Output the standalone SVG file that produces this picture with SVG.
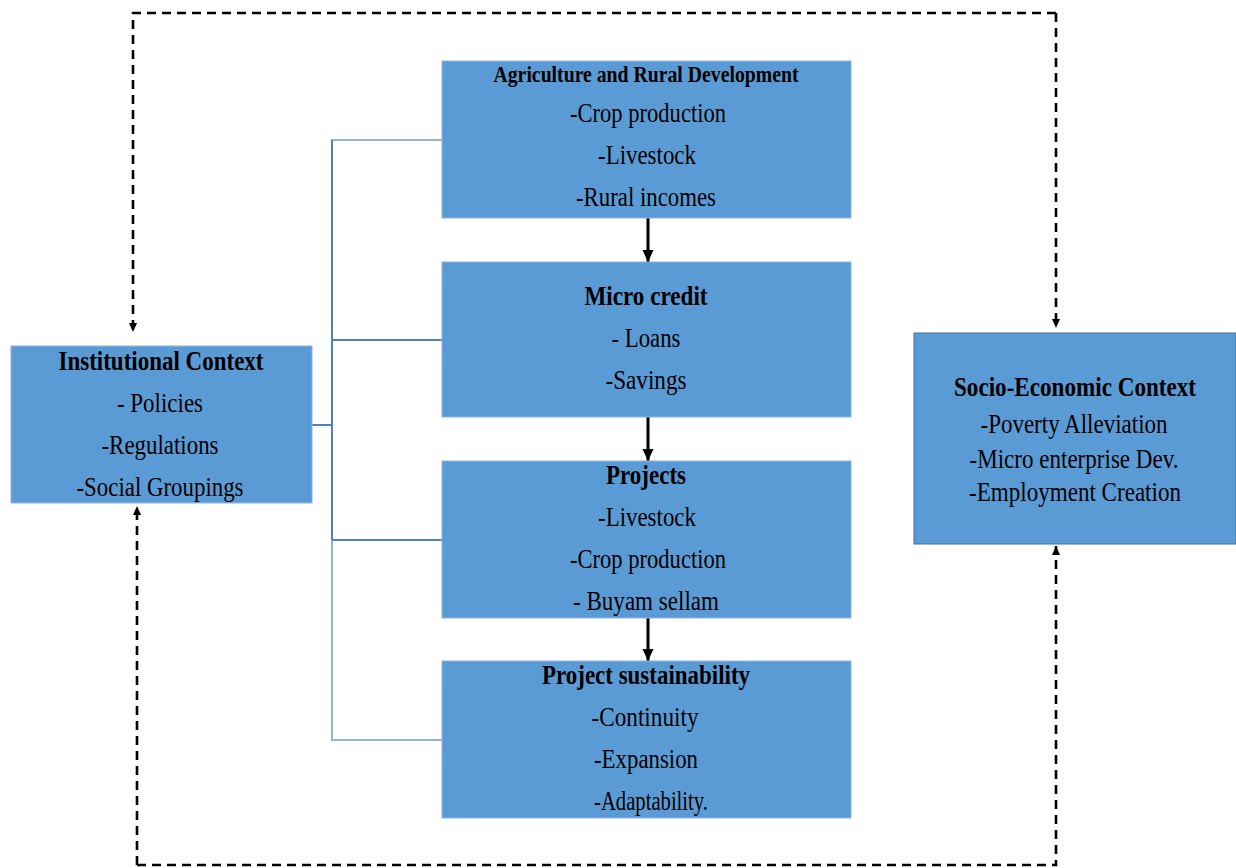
<svg xmlns="http://www.w3.org/2000/svg" width="1236" height="868" viewBox="0 0 1236 868">
<style>
.box{fill:#5b9bd5;stroke:#8db4e2;stroke-width:1}
.t{font-family:"Liberation Serif","Times New Roman",serif;font-size:27px;fill:#000;text-anchor:middle}
.b{font-weight:bold;font-size:28px}
.dash{fill:none;stroke:#000;stroke-width:2.6;stroke-dasharray:9 6}
.solid{fill:none;stroke:#000;stroke-width:3}
.br{fill:none;stroke:#4f81bd;stroke-width:2}
.brl{fill:none;stroke:#95b3d7;stroke-width:2}
</style>
<defs>
<marker id="ah" markerWidth="10" markerHeight="10" refX="9" refY="5" orient="auto" markerUnits="userSpaceOnUse"><path d="M0,1 L9,5 L0,9 Z" fill="#000"/></marker>
<marker id="sh" markerWidth="14" markerHeight="14" refX="12" refY="7" orient="auto" markerUnits="userSpaceOnUse"><path d="M0,1.5 L12,7 L0,12.5 Z" fill="#000"/></marker>
</defs>
<g id="connectors">
<path class="dash" d="M1056,13 H133 V332" marker-end="url(#ah)"/>
<path class="dash" d="M1056,13 V328" marker-end="url(#ah)"/>
<path class="dash" d="M137,865 V506" marker-end="url(#ah)"/>
<path class="dash" d="M137,865 H1056 V546" marker-end="url(#ah)"/>
<path class="solid" d="M648,218 V262" marker-end="url(#sh)"/>
<path class="solid" d="M648,417 V461" marker-end="url(#sh)"/>
<path class="solid" d="M648,618 V661" marker-end="url(#sh)"/>
<path class="brl" d="M442,140 H332 V740 H442"/>
<path class="br" d="M332,140 V540 M332,340 H442 M332,540 H442 M312,425 H332"/>
</g>
<g id="institutional">
<rect class="box" x="11" y="346" width="301" height="157"/>
<text class="t b" x="161" y="370" textLength="205" lengthAdjust="spacingAndGlyphs">Institutional Context</text>
<text class="t" x="160" y="412" textLength="86" lengthAdjust="spacingAndGlyphs">- Policies</text>
<text class="t" x="160" y="454" textLength="117" lengthAdjust="spacingAndGlyphs">-Regulations</text>
<text class="t" x="160" y="496" textLength="167" lengthAdjust="spacingAndGlyphs">-Social Groupings</text>
</g>
<g id="agriculture">
<rect class="box" x="442" y="61" width="409" height="157"/>
<text class="t b" x="646" y="82" style="font-size:23px" textLength="305" lengthAdjust="spacingAndGlyphs">Agriculture and Rural Development</text>
<text class="t" x="648" y="122" textLength="156" lengthAdjust="spacingAndGlyphs">-Crop production</text>
<text class="t" x="647" y="164" textLength="98" lengthAdjust="spacingAndGlyphs">-Livestock</text>
<text class="t" x="646" y="206" textLength="140" lengthAdjust="spacingAndGlyphs">-Rural incomes</text>
</g>
<g id="microcredit">
<rect class="box" x="442" y="262" width="409" height="155"/>
<text class="t b" x="646" y="305" textLength="123" lengthAdjust="spacingAndGlyphs">Micro credit</text>
<text class="t" x="646" y="347" textLength="69" lengthAdjust="spacingAndGlyphs">- Loans</text>
<text class="t" x="646" y="389" textLength="81" lengthAdjust="spacingAndGlyphs">-Savings</text>
</g>
<g id="projects">
<rect class="box" x="442" y="461" width="409" height="157"/>
<text class="t b" x="646" y="484" textLength="80" lengthAdjust="spacingAndGlyphs">Projects</text>
<text class="t" x="647" y="526" textLength="98" lengthAdjust="spacingAndGlyphs">-Livestock</text>
<text class="t" x="648" y="568" textLength="156" lengthAdjust="spacingAndGlyphs">-Crop production</text>
<text class="t" x="646" y="610" textLength="146" lengthAdjust="spacingAndGlyphs">- Buyam sellam</text>
</g>
<g id="sustainability">
<rect class="box" x="442" y="661" width="409" height="157"/>
<text class="t b" x="646" y="684" textLength="208" lengthAdjust="spacingAndGlyphs">Project sustainability</text>
<text class="t" x="645" y="726" textLength="107" lengthAdjust="spacingAndGlyphs">-Continuity</text>
<text class="t" x="646" y="768" textLength="104" lengthAdjust="spacingAndGlyphs">-Expansion</text>
<text class="t" x="651" y="810" textLength="114" lengthAdjust="spacingAndGlyphs">-Adaptability.</text>
</g>
<g id="socioeconomic">
<rect class="box" x="914" y="333" width="322" height="211" style="stroke:#41719c"/>
<text class="t b" x="1075" y="396" textLength="242" lengthAdjust="spacingAndGlyphs">Socio-Economic Context</text>
<text class="t" x="1074" y="433" textLength="187" lengthAdjust="spacingAndGlyphs">-Poverty Alleviation</text>
<text class="t" x="1074" y="468" textLength="209" lengthAdjust="spacingAndGlyphs">-Micro enterprise Dev.</text>
<text class="t" x="1075" y="501" textLength="212" lengthAdjust="spacingAndGlyphs">-Employment Creation</text>
</g>
</svg>
